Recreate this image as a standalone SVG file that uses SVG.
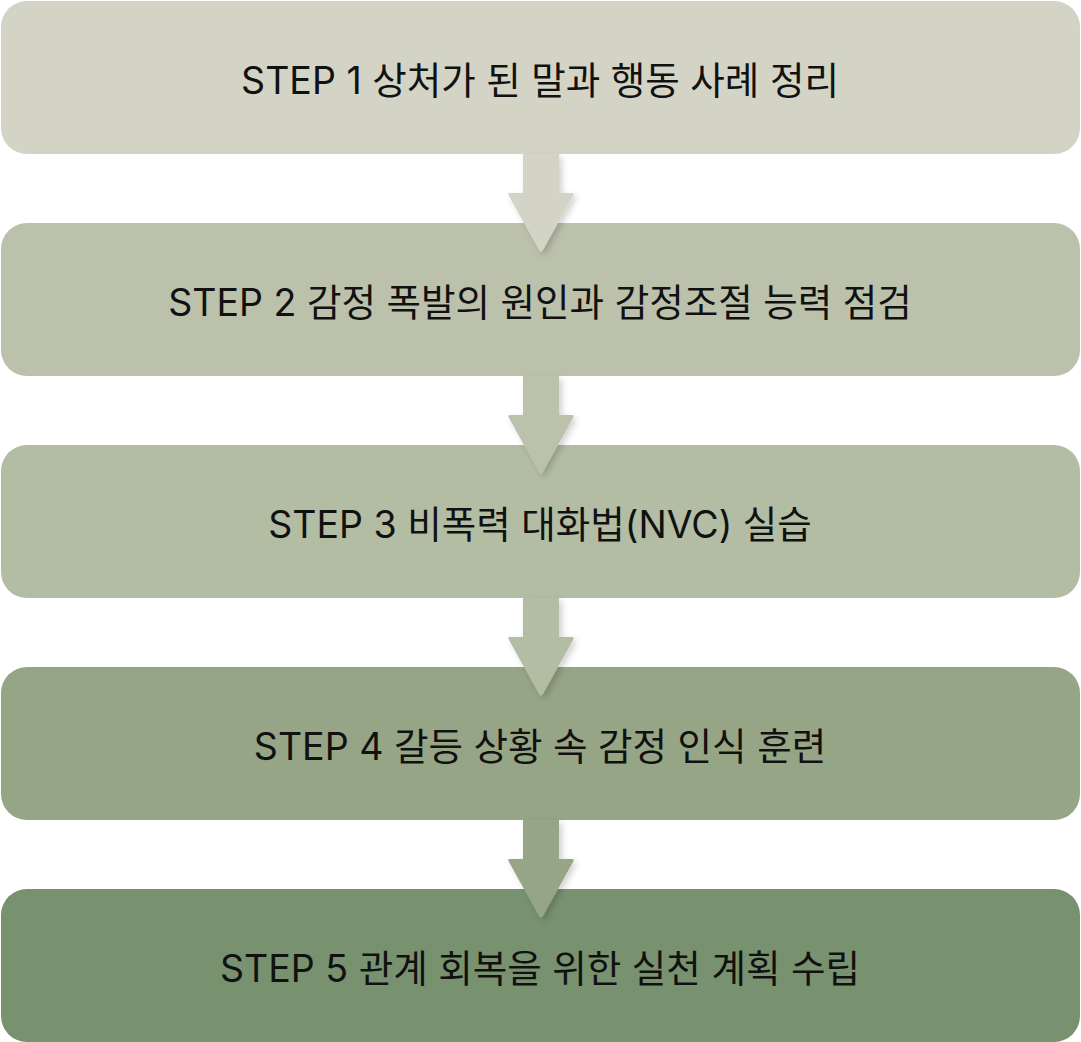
<svg xmlns="http://www.w3.org/2000/svg" width="1081" height="1042" viewBox="0 0 1081 1042">
<style>
.lbl{font-family:Inter,"Noto Sans CJK KR",sans-serif;font-size:37.5px;fill:#111;text-anchor:middle;dominant-baseline:central}
</style>
<defs>
<filter id="sh" x="-30%" y="-30%" width="160%" height="160%">
<feDropShadow dx="3" dy="3" stdDeviation="3" flood-color="#000" flood-opacity="0.18"/>
</filter>
</defs>
<rect width="1081" height="1042" fill="#fff"/>
<g id="node1"><rect x="1" y="1" width="1079" height="153" rx="26" fill="#D3D4C5"/><text class="lbl" x="540" y="80">STEP 1 상처가 된 말과 행동 사례 정리</text></g>
<g id="node2"><rect x="1" y="223" width="1079" height="153" rx="26" fill="#BCC1AC"/><text class="lbl" x="540" y="302">STEP 2 감정 폭발의 원인과 감정조절 능력 점검</text></g>
<g id="node3"><rect x="1" y="445" width="1079" height="153" rx="26" fill="#B3BDA4"/><text class="lbl" x="540" y="524">STEP 3 비폭력 대화법(NVC) 실습</text></g>
<g id="node4"><rect x="1" y="667" width="1079" height="153" rx="26" fill="#96A585"/><text class="lbl" x="540" y="746">STEP 4 갈등 상황 속 감정 인식 훈련</text></g>
<g id="node5"><rect x="1" y="889" width="1079" height="153" rx="26" fill="#789270"/><text class="lbl" x="540" y="968">STEP 5 관계 회복을 위한 실천 계획 수립</text></g>
<g id="connectors" filter="url(#sh)">
<path d="M523 154 H559 V193 H572 Q575 193 573 196 L543 250 Q541 253 539 250 L509 196 Q507 193 510 193 H523 Z" fill="#D3D4C5"/>
<path d="M523 376 H559 V415 H572 Q575 415 573 418 L543 472 Q541 475 539 472 L509 418 Q507 415 510 415 H523 Z" fill="#BCC1AC"/>
<path d="M523 598 H559 V637 H572 Q575 637 573 640 L543 694 Q541 697 539 694 L509 640 Q507 637 510 637 H523 Z" fill="#B3BDA4"/>
<path d="M523 820 H559 V859 H572 Q575 859 573 862 L543 916 Q541 919 539 916 L509 862 Q507 859 510 859 H523 Z" fill="#96A585"/>
</g>
</svg>
